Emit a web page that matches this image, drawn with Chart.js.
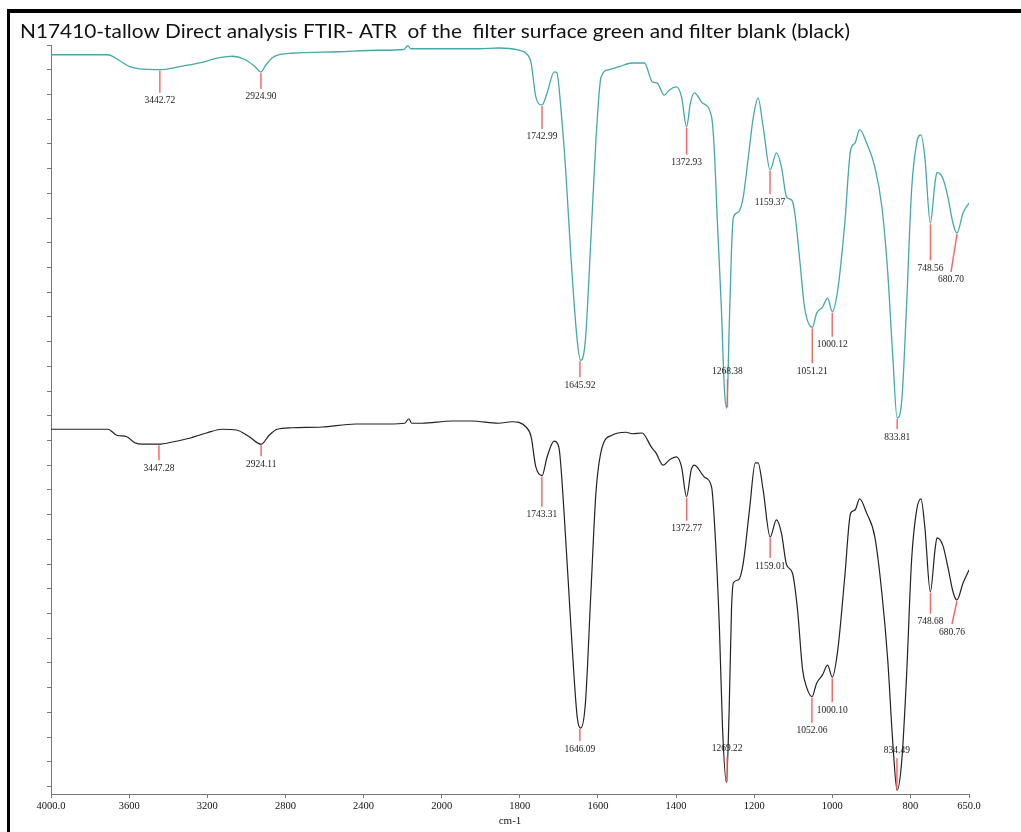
<!DOCTYPE html>
<html>
<head>
<meta charset="utf-8">
<script src="https://cdn.jsdelivr.net/npm/chart.js@4"></script>
<style>
  html, body { margin: 0; padding: 0; background: #fff; }
</style>
</head>
<body>
<canvas id="myChart" width="1021" height="832"></canvas>
<script>
//-----------------DATOS------------------
var titulo = 'N17410-tallow Direct analysis FTIR- ATR  of the  filter surface green and filter blank (black)';
var xTitulo = 'cm-1';
var xTicks = [4000, 3600, 3200, 2800, 2400, 2000, 1800, 1600, 1400, 1200, 1000, 800, 650];
var xTickLabels = ['4000.0', '3600', '3200', '2800', '2400', '2000', '1800', '1600', '1400', '1200', '1000', '800', '650.0'];

// espectro filtro (verde)
var greenWn = [4000, 3709, 3648, 3597, 3546, 3443, 3342, 3240, 3138, 3071, 3010, 2959, 2925, 2903, 2867, 2832, 2765, 2526, 2321, 2194, 2173, 2158, 2015, 1905, 1854, 1802, 1784, 1771, 1759, 1743, 1730, 1712, 1705, 1695, 1682, 1669, 1653, 1644, 1632, 1618, 1605, 1592, 1571, 1546, 1512, 1481, 1461, 1448, 1430, 1417, 1399, 1386, 1373, 1363, 1353, 1333, 1309, 1302, 1294, 1284, 1276, 1270, 1264, 1258, 1253, 1240, 1228, 1215, 1202, 1190, 1177, 1159, 1143, 1130, 1117, 1104, 1096, 1084, 1071, 1051, 1040, 1025, 1012, 1000, 986, 968, 953, 942, 930, 912, 891, 873, 858, 845, 834, 822, 810, 797, 784, 773, 763, 749, 737, 732, 717, 704, 691, 681, 665, 650];
var greenT = [98.7, 98.7, 97.9, 97.1, 96.8, 96.7, 97.1, 97.6, 98.3, 98.5, 98.1, 97.2, 96.4, 97.2, 98.3, 98.7, 98.9, 99.1, 99.3, 99.4, 99.9, 99.5, 99.5, 99.5, 99.6, 99.3, 98.9, 97.6, 93.1, 92.0, 93.6, 96.4, 96.3, 91.7, 82.9, 71.7, 60.6, 57.9, 60.6, 74.0, 87.3, 95.7, 96.7, 97.1, 97.6, 97.6, 95.1, 94.9, 93.3, 94.0, 94.4, 93.1, 89.1, 92.3, 93.6, 92.3, 90.4, 86.0, 76.2, 65.0, 53.9, 51.5, 62.0, 72.6, 77.0, 77.7, 79.7, 85.0, 90.4, 92.9, 89.1, 83.3, 85.6, 83.7, 79.7, 79.3, 77.6, 71.7, 65.0, 62.3, 64.2, 65.0, 66.2, 64.4, 67.3, 76.2, 86.0, 86.9, 88.7, 86.9, 83.7, 78.4, 69.6, 58.3, 50.2, 52.6, 65.0, 80.6, 86.9, 88.0, 85.0, 76.2, 81.6, 83.0, 82.2, 79.7, 76.2, 74.9, 77.6, 78.9];

// espectro blanco (negro)
var blackWn = [4000, 3709, 3663, 3612, 3571, 3531, 3447, 3378, 3291, 3204, 3122, 3051, 2985, 2924, 2883, 2842, 2765, 2612, 2439, 2270, 2189, 2168, 2153, 2102, 1974, 1923, 1854, 1820, 1784, 1771, 1759, 1743, 1730, 1712, 1700, 1687, 1669, 1653, 1644, 1632, 1618, 1605, 1589, 1564, 1528, 1512, 1487, 1463, 1451, 1433, 1417, 1399, 1386, 1373, 1361, 1353, 1327, 1309, 1302, 1289, 1281, 1271, 1264, 1258, 1253, 1240, 1228, 1212, 1197, 1190, 1177, 1159, 1143, 1130, 1117, 1102, 1089, 1076, 1066, 1052, 1040, 1025, 1012, 1000, 986, 968, 953, 942, 930, 912, 891, 873, 858, 845, 834, 822, 810, 797, 784, 773, 763, 749, 737, 732, 717, 704, 691, 681, 665, 650];
var blackT = [48.7, 48.7, 47.9, 47.7, 46.9, 46.7, 46.7, 47.0, 47.5, 48.2, 48.7, 48.6, 47.7, 46.7, 47.9, 48.7, 48.9, 49.0, 49.4, 49.4, 49.5, 50.1, 49.5, 49.5, 49.8, 49.8, 49.5, 49.7, 49.0, 47.7, 43.7, 42.5, 45.0, 47.1, 46.3, 37.9, 22.3, 10.3, 8.8, 12.1, 26.8, 40.2, 46.3, 47.9, 48.3, 48.1, 48.2, 46.3, 45.5, 43.9, 44.6, 45.0, 43.7, 39.7, 43.3, 43.9, 42.3, 41.0, 36.6, 22.3, 8.9, 1.5, 11.2, 24.6, 28.2, 28.6, 30.8, 37.9, 44.2, 44.2, 40.6, 34.3, 36.6, 34.8, 30.6, 29.5, 24.6, 16.6, 14.3, 13.0, 14.8, 15.9, 17.2, 15.6, 19.2, 29.0, 37.5, 37.9, 39.4, 37.5, 34.3, 26.8, 17.9, 6.8, 0.5, 4.5, 15.6, 31.2, 37.9, 39.4, 35.6, 27.0, 32.6, 34.2, 33.2, 30.3, 27.0, 25.9, 28.2, 29.9];

// picos marcados
var greenPeakWn = [3442.72, 2924.90, 1742.99, 1645.92, 1372.93, 1268.38, 1159.37, 1051.21, 1000.12, 833.81, 748.56, 680.70];
var greenPeakT = [96.7, 96.4, 92.0, 57.9, 89.1, 51.5, 83.3, 62.3, 64.4, 50.2, 76.2, 74.9];
var blackPeakWn = [3447.28, 2924.11, 1743.31, 1646.09, 1372.77, 1269.22, 1159.01, 1052.06, 1000.10, 834.49, 748.68, 680.76];
var blackPeakT = [46.7, 46.7, 42.5, 8.8, 39.7, 1.5, 34.3, 13.0, 15.6, 0.5, 27.0, 25.9];

// desplazamiento de las etiquetas (px)
var greenLabelDy = [31, 25, 32, 25, 36, -37, 32, 44, 33, 19, 45, 47];
var greenLabelDx = [0, 0, 0, 0, 0, 0, 0, 0, 0, 0, 0, -6];
var blackLabelDy = [24, 20, 39, 21, 32, -34, 29, 34, 33, -40, 30, 32];
var blackLabelDx = [0, 0, 0, 0, 0, 0, 0, 0, 0, 0, 0, -5];

//-----------------FUNCIONES------------------
// escala del eje x: por encima de 2000 cm-1 va comprimida a la mitad
function t(wn) {
    return wn <= 2000 ? wn : 2000 + (wn - 2000) / 2;
}

function serie(wn, tr) {
    var pts = [];
    for (var i = 0; i < wn.length; i++) {
        pts.push({x: t(wn[i]), y: tr[i]});
    }
    return pts;
}

var marcoPlugin = {
    id: 'marco',
    afterDraw: function (chart) {
        var ctx = chart.ctx;
        ctx.save();
        // marco negro
        ctx.fillStyle = '#000';
        ctx.fillRect(7, 9, 1014, 4);
        ctx.fillRect(7, 9, 3, 823);
        // titulo
        ctx.fillStyle = '#111';
        ctx.font = '20px Lato';
        ctx.textBaseline = 'alphabetic';
        ctx.textAlign = 'left';
        var w = ctx.measureText(titulo).width;
        ctx.translate(20, 38);
        ctx.scale(830 / w, 1);
        ctx.fillText(titulo, 0, 0);
        ctx.restore();
        // titulo eje x
        ctx.save();
        ctx.fillStyle = '#111';
        ctx.font = '11px "Liberation Serif"';
        ctx.textAlign = 'center';
        ctx.textBaseline = 'middle';
        ctx.fillText(xTitulo, 510, 821);
        ctx.restore();
    }
};

var picosPlugin = {
    id: 'picos',
    afterDatasetsDraw: function (chart) {
        var ctx = chart.ctx;
        var xs = chart.scales.x, ys = chart.scales.y;
        var grupos = [
            [greenPeakWn, greenPeakT, greenLabelDy, greenLabelDx],
            [blackPeakWn, blackPeakT, blackLabelDy, blackLabelDx]
        ];
        ctx.save();
        ctx.font = '9.5px "Liberation Serif"';
        ctx.textAlign = 'center';
        ctx.textBaseline = 'middle';
        grupos.forEach(function (g) {
            for (var i = 0; i < g[0].length; i++) {
                var px = xs.getPixelForValue(t(g[0][i]));
                var py = ys.getPixelForValue(g[1][i]);
                var lx = px + g[3][i];
                var ly = py + g[2][i];
                ctx.strokeStyle = 'rgba(255, 85, 85, 0.9)';
                ctx.lineWidth = 1.5;
                ctx.beginPath();
                if (g[2][i] > 0) {
                    ctx.moveTo(px, py + 1);
                    ctx.lineTo(lx, ly - 8);
                } else {
                    ctx.moveTo(lx, ly + 8);
                    ctx.lineTo(px, py - 1);
                }
                ctx.stroke();
                ctx.fillStyle = '#222';
                ctx.fillText(g[0][i].toFixed(2), lx, ly);
            }
        });
        ctx.restore();
    }
};

function create_chart() {
    var ctx = document.getElementById('myChart').getContext('2d');
    myChart = new Chart(ctx, {
        type: 'line',
        data: {
            datasets: [{
                label: 'filter surface',
                data: serie(greenWn, greenT),
                borderColor: '#43a9a9',
                borderWidth: 1.3,
                pointRadius: 0,
                cubicInterpolationMode: 'monotone'
            }, {
                label: 'filter blank',
                data: serie(blackWn, blackT),
                borderColor: '#222',
                borderWidth: 1.2,
                pointRadius: 0,
                cubicInterpolationMode: 'monotone'
            }]
        },
        options: {
            responsive: false,
            animation: false,
            layout: { padding: { top: 45, right: 52, left: 0, bottom: 0 } },
            plugins: {
                legend: { display: false },
                tooltip: { enabled: false }
            },
            scales: {
                x: {
                    type: 'linear',
                    reverse: true,
                    min: t(650),
                    max: t(4000),
                    afterBuildTicks: function (scale) {
                        scale.ticks = xTicks.map(function (v) { return {value: t(v)}; });
                    },
                    afterFit: function (scale) { scale.height = 38; },
                    ticks: {
                        autoSkip: false,
                        maxRotation: 0,
                        padding: 2,
                        color: '#111',
                        font: { family: 'Liberation Serif', size: 10.5 },
                        callback: function (value, index) { return xTickLabels[index]; }
                    },
                    grid: { drawOnChartArea: false, drawTicks: true, tickLength: 4, color: '#777' },
                    border: { display: true, color: '#777', width: 1 }
                },
                y: {
                    type: 'linear',
                    min: 0,
                    max: 100,
                    afterBuildTicks: function (scale) {
                        var tk = [];
                        for (var k = 0; k <= 30; k++) tk.push({value: 100 - 3.3 * k});
                        scale.ticks = tk;
                    },
                    afterFit: function (scale) { scale.width = 51; },
                    ticks: { display: false },
                    grid: { drawOnChartArea: false, drawTicks: true, tickLength: 4, color: '#777' },
                    border: { display: true, color: '#777', width: 1 }
                }
            }
        },
        plugins: [picosPlugin, marcoPlugin]
    });
}

create_chart();
</script>
</body>
</html>
